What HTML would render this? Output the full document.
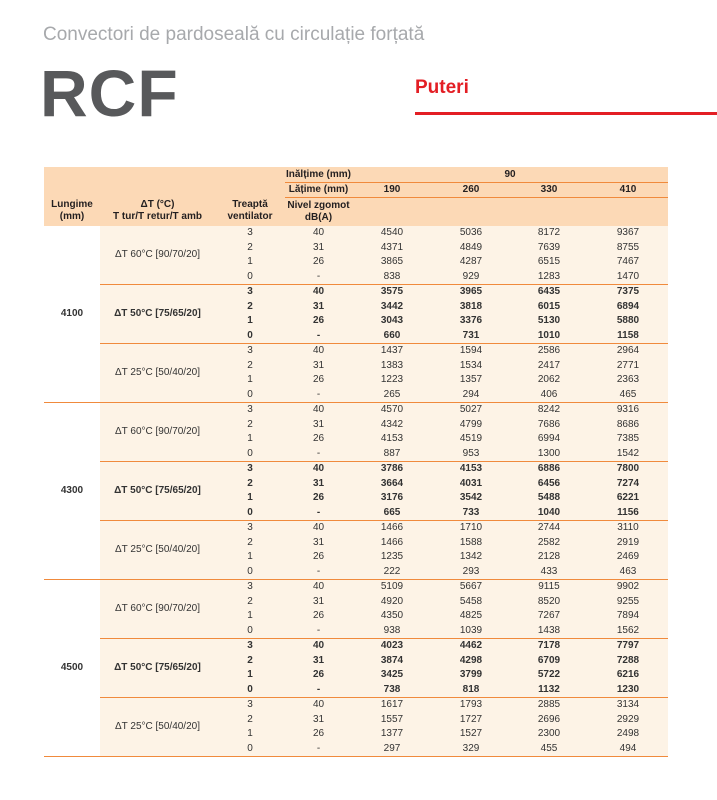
<!DOCTYPE html>
<html><head><meta charset="utf-8"><style>
body{margin:0;width:717px;height:800px;background:#fff;position:relative;font-family:"Liberation Sans",sans-serif;overflow:hidden}
.t1{position:absolute;left:43px;top:24px;font-size:19px;color:#a7a9ac}
.rcf{position:absolute;left:40px;top:55px;font-size:66px;font-weight:bold;color:#58595b;letter-spacing:1px}
.put{position:absolute;left:415px;top:77px;font-size:19px;font-weight:bold;color:#e31e24}
.rl{position:absolute;left:415px;top:112px;width:302px;height:3px;background:#e31e24}
table{position:absolute;left:44px;top:167px;border-collapse:collapse;table-layout:fixed;width:624px;font-size:10px;color:#333}
td{padding:0;text-align:center;line-height:10px;white-space:nowrap}
thead td{background:#fcd9b6;font-weight:bold;color:#231f20}
tbody td{background:#fdf3e6;height:14.5px}
tbody td.w{background:#fff;font-weight:bold}
.ob td{border-top:1px solid #f08a3c}
tr.g td{border-top:1px solid #f08a3c}
.b td{font-weight:bold}
.hl{border-bottom:1px solid #f08a3c}
</style></head><body>
<div class="t1">Convectori de pardoseală cu circulație forțată</div>
<div class="rcf">RCF</div>
<div class="put">Puteri</div>
<div class="rl"></div>
<table>
<colgroup><col style="width:56px"><col style="width:115px"><col style="width:70px"><col style="width:67px"><col style="width:80px"><col style="width:78px"><col style="width:78px"><col style="width:80px"></colgroup>
<thead>
<tr style="height:15px"><td></td><td></td><td></td><td class="hl" style="padding-top:2px">Inălțime (mm)</td><td class="hl" colspan="4" style="padding-top:2px">90</td></tr>
<tr style="height:15px"><td rowspan="2" style="vertical-align:bottom;padding-bottom:3px;line-height:12px">Lungime<br>(mm)</td><td rowspan="2" style="vertical-align:bottom;padding-bottom:3px;line-height:12px">ΔT (°C)<br>T tur/T retur/T amb</td><td rowspan="2" style="vertical-align:bottom;padding-bottom:3px;line-height:12px">Treaptă<br>ventilator</td><td class="hl">Lățime (mm)</td><td class="hl">190</td><td class="hl">260</td><td class="hl">330</td><td class="hl">410</td></tr>
<tr style="height:29px"><td style="line-height:12px">Nivel zgomot<br>dB(A)</td><td></td><td></td><td></td><td></td></tr>
</thead>
<tbody>
<tr><td class="w" rowspan="12">4100</td><td rowspan="4">ΔT 60°C [90/70/20]</td><td>3</td><td>40</td><td>4540</td><td>5036</td><td>8172</td><td>9367</td></tr>
<tr><td>2</td><td>31</td><td>4371</td><td>4849</td><td>7639</td><td>8755</td></tr>
<tr><td>1</td><td>26</td><td>3865</td><td>4287</td><td>6515</td><td>7467</td></tr>
<tr><td>0</td><td>-</td><td>838</td><td>929</td><td>1283</td><td>1470</td></tr>
<tr class="ob b"><td rowspan="4">ΔT 50°C [75/65/20]</td><td>3</td><td>40</td><td>3575</td><td>3965</td><td>6435</td><td>7375</td></tr>
<tr class="b"><td>2</td><td>31</td><td>3442</td><td>3818</td><td>6015</td><td>6894</td></tr>
<tr class="b"><td>1</td><td>26</td><td>3043</td><td>3376</td><td>5130</td><td>5880</td></tr>
<tr class="b"><td>0</td><td>-</td><td>660</td><td>731</td><td>1010</td><td>1158</td></tr>
<tr class="ob"><td rowspan="4">ΔT 25°C [50/40/20]</td><td>3</td><td>40</td><td>1437</td><td>1594</td><td>2586</td><td>2964</td></tr>
<tr><td>2</td><td>31</td><td>1383</td><td>1534</td><td>2417</td><td>2771</td></tr>
<tr><td>1</td><td>26</td><td>1223</td><td>1357</td><td>2062</td><td>2363</td></tr>
<tr><td>0</td><td>-</td><td>265</td><td>294</td><td>406</td><td>465</td></tr>

<tr class="g"><td class="w" rowspan="12">4300</td><td rowspan="4">ΔT 60°C [90/70/20]</td><td>3</td><td>40</td><td>4570</td><td>5027</td><td>8242</td><td>9316</td></tr>
<tr><td>2</td><td>31</td><td>4342</td><td>4799</td><td>7686</td><td>8686</td></tr>
<tr><td>1</td><td>26</td><td>4153</td><td>4519</td><td>6994</td><td>7385</td></tr>
<tr><td>0</td><td>-</td><td>887</td><td>953</td><td>1300</td><td>1542</td></tr>
<tr class="ob b"><td rowspan="4">ΔT 50°C [75/65/20]</td><td>3</td><td>40</td><td>3786</td><td>4153</td><td>6886</td><td>7800</td></tr>
<tr class="b"><td>2</td><td>31</td><td>3664</td><td>4031</td><td>6456</td><td>7274</td></tr>
<tr class="b"><td>1</td><td>26</td><td>3176</td><td>3542</td><td>5488</td><td>6221</td></tr>
<tr class="b"><td>0</td><td>-</td><td>665</td><td>733</td><td>1040</td><td>1156</td></tr>
<tr class="ob"><td rowspan="4">ΔT 25°C [50/40/20]</td><td>3</td><td>40</td><td>1466</td><td>1710</td><td>2744</td><td>3110</td></tr>
<tr><td>2</td><td>31</td><td>1466</td><td>1588</td><td>2582</td><td>2919</td></tr>
<tr><td>1</td><td>26</td><td>1235</td><td>1342</td><td>2128</td><td>2469</td></tr>
<tr><td>0</td><td>-</td><td>222</td><td>293</td><td>433</td><td>463</td></tr>

<tr class="g"><td class="w" rowspan="12">4500</td><td rowspan="4">ΔT 60°C [90/70/20]</td><td>3</td><td>40</td><td>5109</td><td>5667</td><td>9115</td><td>9902</td></tr>
<tr><td>2</td><td>31</td><td>4920</td><td>5458</td><td>8520</td><td>9255</td></tr>
<tr><td>1</td><td>26</td><td>4350</td><td>4825</td><td>7267</td><td>7894</td></tr>
<tr><td>0</td><td>-</td><td>938</td><td>1039</td><td>1438</td><td>1562</td></tr>
<tr class="ob b"><td rowspan="4">ΔT 50°C [75/65/20]</td><td>3</td><td>40</td><td>4023</td><td>4462</td><td>7178</td><td>7797</td></tr>
<tr class="b"><td>2</td><td>31</td><td>3874</td><td>4298</td><td>6709</td><td>7288</td></tr>
<tr class="b"><td>1</td><td>26</td><td>3425</td><td>3799</td><td>5722</td><td>6216</td></tr>
<tr class="b"><td>0</td><td>-</td><td>738</td><td>818</td><td>1132</td><td>1230</td></tr>
<tr class="ob"><td rowspan="4">ΔT 25°C [50/40/20]</td><td>3</td><td>40</td><td>1617</td><td>1793</td><td>2885</td><td>3134</td></tr>
<tr><td>2</td><td>31</td><td>1557</td><td>1727</td><td>2696</td><td>2929</td></tr>
<tr><td>1</td><td>26</td><td>1377</td><td>1527</td><td>2300</td><td>2498</td></tr>
<tr style="border-bottom:1px solid #f08a3c"><td>0</td><td>-</td><td>297</td><td>329</td><td>455</td><td>494</td></tr>
</tbody>
</table>
</body></html>
